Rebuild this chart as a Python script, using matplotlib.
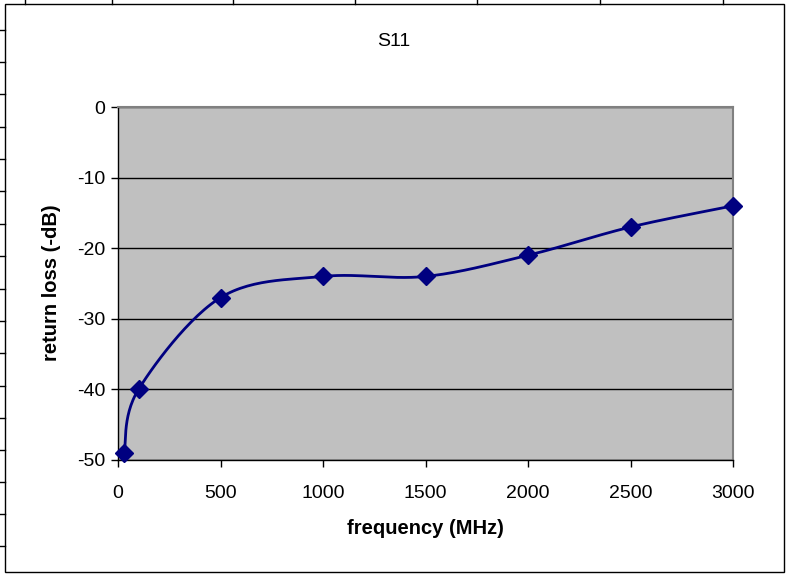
import numpy as np
import matplotlib.pyplot as plt
from matplotlib.lines import Line2D
from matplotlib.patches import Rectangle

# -----------------------------------
# Data
# -----------------------------------
freq_mhz = [30, 100, 500, 1000, 1500, 2000, 2500, 3000]
return_loss = [-49, -40, -27, -24, -24, -21, -17, -14]
x_ticks = [0, 500, 1000, 1500, 2000, 2500, 3000]
y_ticks = [0, -10, -20, -30, -40, -50]

plt.rcParams['font.family'] = ['Liberation Sans', 'DejaVu Sans']
plt.rcParams['axes.unicode_minus'] = False

fig = plt.figure(figsize=(7.89, 5.75), dpi=100)
ax = fig.add_axes([118 / 789, 1 - 460 / 575, 615 / 789, 353 / 575])

ax.set_facecolor('#C0C0C0')
ax.set_xlim(0, 3000)
ax.set_ylim(-50, 0)
ax.set_xticks(x_ticks)
ax.set_yticks(y_ticks)
ax.tick_params(direction='out', length=5, width=1, labelsize=14, color='black')
ax.tick_params(axis='y', pad=4)
ax.tick_params(axis='x', pad=13)
ax.yaxis.grid(True, color='black', linewidth=1)
ax.set_axisbelow(True)

for side in ['top', 'right']:
    ax.spines[side].set_color('#808080')
    ax.spines[side].set_linewidth(1.5)
for side in ['left', 'bottom']:
    ax.spines[side].set_color('black')
    ax.spines[side].set_linewidth(1)

# smooth line like Excel: cubic bezier through the points, built in axes space
fig.canvas.draw()
pts = ax.transAxes.inverted().transform(
    ax.transData.transform(np.column_stack([freq_mhz, return_loss])))
ext = np.vstack([pts[0], pts, pts[-1]])
curve = []
t = np.linspace(0, 1, 30)[:, None]
for i in range(len(pts) - 1):
    p0, p3 = ext[i + 1], ext[i + 2]
    c1 = p0 + (ext[i + 2] - ext[i]) / 6
    c2 = p3 - (ext[i + 3] - ext[i + 1]) / 6
    seg = (1 - t) ** 3 * p0 + 3 * (1 - t) ** 2 * t * c1 + 3 * (1 - t) * t ** 2 * c2 + t ** 3 * p3
    curve.append(seg)
curve = np.vstack(curve)
ax.plot(curve[:, 0], curve[:, 1], color='#000080', linewidth=2, transform=ax.transAxes,
        clip_on=False, zorder=3)
ax.plot(freq_mhz, return_loss, linestyle='none', marker='D', markersize=9,
        color='#000080', clip_on=False, zorder=4)

fig.text(394 / 789, 1 - 42 / 575, 'S11', ha='center', va='center', fontsize=14)
ax.set_xlabel('frequency (MHz)', fontsize=14.5, fontweight='bold', va='center')
ax.xaxis.set_label_coords(425 / 789, 1 - 528 / 575, transform=fig.transFigure)
ax.set_ylabel('return loss (-dB)', fontsize=14.5, fontweight='bold', va='center')
ax.yaxis.set_label_coords(52 / 789, 1 - 283 / 575, transform=fig.transFigure)

# chart frame and the spreadsheet cell lines around it
fig.patches.append(Rectangle((5 / 789, 1 - 572 / 575), 779 / 789, 568 / 575,
                             transform=fig.transFigure, fill=False,
                             edgecolor='black', linewidth=1))
for xp in [25, 112, 233, 355, 477, 600, 723]:
    fig.lines.append(Line2D([xp / 789, xp / 789], [1, 1 - 4 / 575],
                            transform=fig.transFigure, color='black', linewidth=1))
for yp in [30, 62, 94, 127, 159, 191, 224, 256, 289, 321, 353, 386, 418, 450, 482, 514, 546]:
    fig.lines.append(Line2D([0, 5 / 789], [1 - yp / 575, 1 - yp / 575],
                            transform=fig.transFigure, color='black', linewidth=1))

fig.savefig('out.png', dpi=100)
